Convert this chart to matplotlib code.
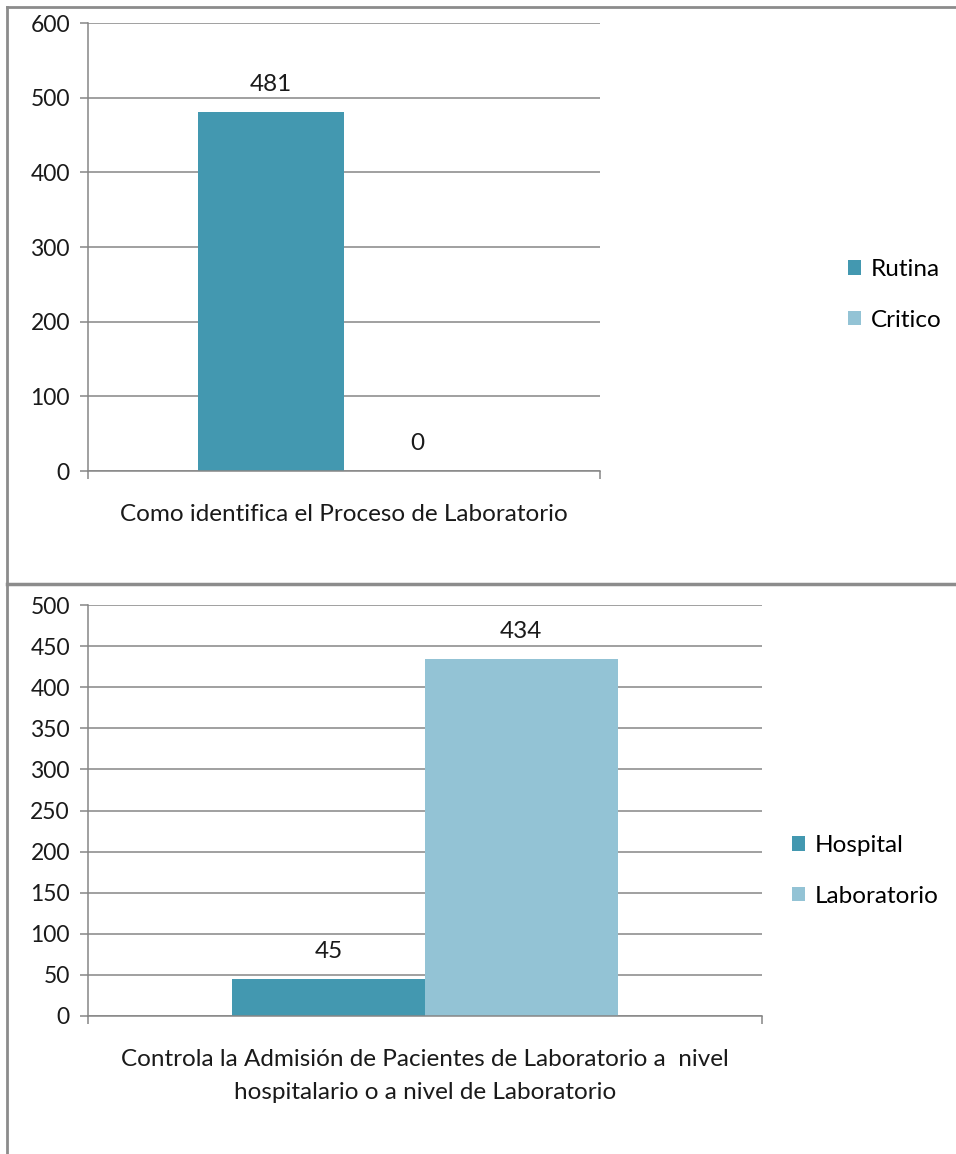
import matplotlib
matplotlib.use("Agg")
import matplotlib.pyplot as plt
from matplotlib.patches import Patch
from matplotlib.lines import Line2D

plt.rcParams['font.family'] = ['Lato', 'DejaVu Sans']

# chart 1
cat1 = "Como identifica el Proceso de Laboratorio"
series1 = ["Rutina", "Critico"]
values1 = [481, 0]
yticks1 = [0, 100, 200, 300, 400, 500, 600]

# chart 2
cat2 = "Controla la Admisión de Pacientes de Laboratorio a  nivel\nhospitalario o a nivel de Laboratorio"
series2 = ["Hospital", "Laboratorio"]
values2 = [45, 434]
yticks2 = [0, 50, 100, 150, 200, 250, 300, 350, 400, 450, 500]

colors = ["#4398B0", "#93C3D5"]
GRID = "#868686"
W, H = 956, 1154
FS = 17.5


def px_axes(fig, x0, x1, ytop, ybot):
    return fig.add_axes([x0 / W, 1 - ybot / H, (x1 - x0) / W, (ybot - ytop) / H])


def bar_chart(ax, cat, names, vals, yticks):
    xs = [-0.5, 0.5]
    for x, v, c, n in zip(xs, vals, colors, names):
        ax.bar(x, v, width=1.0, color=c, zorder=2, label=n)
        ax.annotate(str(v), (x, v), xytext=(0, 20), textcoords="offset points",
                    ha="center", va="center", fontsize=FS, color="#1a1a1a")
    ax.set_xlim(-1.75, 1.75)
    ax.set_ylim(yticks[0], yticks[-1])
    ax.set_yticks(yticks)
    ax.yaxis.grid(True, color=GRID, lw=1.1, zorder=0)
    ax.set_axisbelow(True)
    ax.set_xticks([-1.75, 1.75])
    ax.set_xticklabels(["", ""])
    for s in ["top", "right"]:
        ax.spines[s].set_visible(False)
    for s in ["left", "bottom"]:
        ax.spines[s].set_color(GRID)
        ax.spines[s].set_linewidth(1.1)
    ax.tick_params(axis="y", length=6, width=1.1, color=GRID, labelsize=16.5, pad=7,
                   labelcolor="#1a1a1a")
    ax.tick_params(axis="x", length=6, width=1.1, color=GRID, direction="out")
    ax.annotate(cat, (0.5, 0), xycoords="axes fraction", xytext=(0, -24),
                textcoords="offset points", ha="center", va="top",
                fontsize=FS, color="#1a1a1a", linespacing=1.7)


fig = plt.figure(figsize=(W / 100, H / 100), dpi=100)

ax1 = px_axes(fig, 88, 600, 23, 471)
bar_chart(ax1, cat1, series1, values1, yticks1)
ax2 = px_axes(fig, 88, 762, 605, 1016)
bar_chart(ax2, cat2, series2, values2, yticks2)


def add_legend(names, x, y):
    handles = [Patch(facecolor=c, edgecolor="none") for c in colors]
    fig.legend(handles, names, loc="center left", bbox_to_anchor=(x / W, 1 - y / H),
               frameon=False, fontsize=FS, handlelength=0.55, handleheight=0.55,
               handletextpad=0.4, labelspacing=1.2, borderaxespad=0, borderpad=0)


add_legend(series1, 848, 295)
add_legend(series2, 792, 871)

# frame lines around the two charts
border = "#8c8c8c"
fig.add_artist(Line2D([7 / W, 1], [1 - 7 / H, 1 - 7 / H], color=border, lw=2))
fig.add_artist(Line2D([7 / W, 7 / W], [0, 1 - 7 / H], color=border, lw=2))
fig.add_artist(Line2D([7 / W, 1], [1 - 584 / H, 1 - 584 / H], color=border, lw=2.5))

fig.savefig("out.png", dpi=100)
